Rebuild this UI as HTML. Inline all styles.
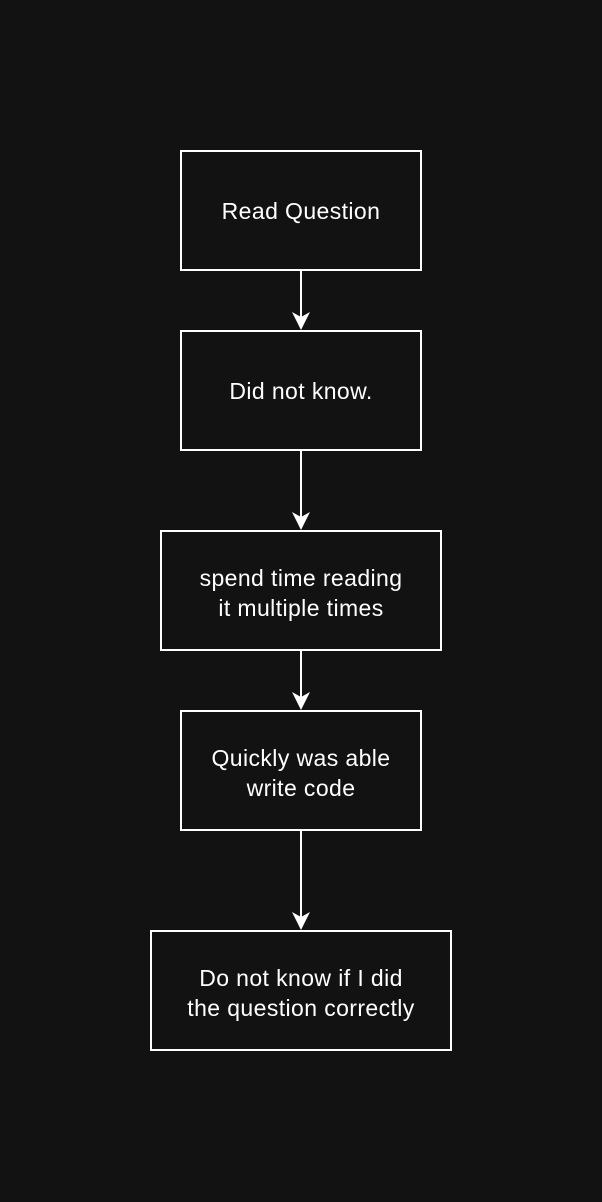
<!DOCTYPE html>
<html><head><style>body{margin:0;background:#121212;}svg{display:block}</style></head>
<body>
<svg width="602" height="1202" xmlns="http://www.w3.org/2000/svg">
<rect width="602" height="1202" fill="#121212"/>
<g fill="none" stroke="#fff" stroke-width="2">
<rect x="181" y="151" width="240" height="119"/>
<rect x="181" y="331" width="240" height="119"/>
<rect x="161" y="531" width="280" height="119"/>
<rect x="181" y="711" width="240" height="119"/>
<rect x="151" y="931" width="300" height="119"/>
<line x1="301" y1="270" x2="301" y2="318"/>
<line x1="301" y1="450" x2="301" y2="518"/>
<line x1="301" y1="650" x2="301" y2="698"/>
<line x1="301" y1="830" x2="301" y2="918"/>
</g>
<g fill="#fff">
<path d="M301 330 L292 312 L301 317 L310 312 Z"/>
<path d="M301 530 L292 512 L301 517 L310 512 Z"/>
<path d="M301 710 L292 692 L301 697 L310 692 Z"/>
<path d="M301 930 L292 912 L301 917 L310 912 Z"/>
</g>
<g fill="#fff" font-family="Liberation Sans, sans-serif" font-size="23" letter-spacing="0.4" text-anchor="middle">
<text x="301" y="219">Read Question</text>
<text x="301" y="399">Did not know.</text>
<text x="301" y="586">spend time reading</text>
<text x="301" y="616">it multiple times</text>
<text x="301" y="766">Quickly was able</text>
<text x="301" y="796">write code</text>
<text x="301" y="986">Do not know if I did</text>
<text x="301" y="1016">the question correctly</text>
</g>
</svg>
</body></html>
